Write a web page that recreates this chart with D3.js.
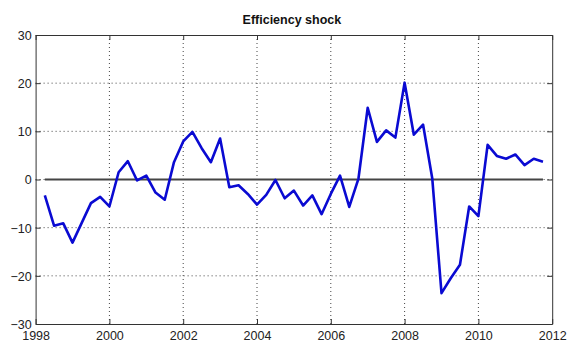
<!DOCTYPE html>
<html>
<head>
<meta charset="utf-8">
<script src="https://cdn.jsdelivr.net/npm/d3@7"></script>
<style>
  html, body { margin: 0; padding: 0; background: #fff; }
  svg text { font-family: "Liberation Sans", Arial, sans-serif; }
</style>
</head>
<body>
<svg id="chart" width="569" height="346"></svg>
<script>
// Quarterly dates (decimal years) and the efficiency shock series
const dates = [
  1998.25, 1998.5, 1998.75, 1999.0, 1999.25, 1999.5, 1999.75,
  2000.0, 2000.25, 2000.5, 2000.75, 2001.0, 2001.25, 2001.5, 2001.75,
  2002.0, 2002.25, 2002.5, 2002.75, 2003.0, 2003.25, 2003.5, 2003.75,
  2004.0, 2004.25, 2004.5, 2004.75, 2005.0, 2005.25, 2005.5, 2005.75,
  2006.0, 2006.25, 2006.5, 2006.75, 2007.0, 2007.25, 2007.5, 2007.75,
  2008.0, 2008.25, 2008.5, 2008.75, 2009.0, 2009.25, 2009.5, 2009.75,
  2010.0, 2010.25, 2010.5, 2010.75, 2011.0, 2011.25, 2011.5, 2011.75
];
const shock = [
  -3.3, -9.6, -9.1, -13.1, -9.0, -4.9, -3.6,
  -5.6, 1.5, 3.8, -0.2, 0.8, -2.7, -4.2, 3.6,
  7.9, 9.9, 6.5, 3.6, 8.5, -1.6, -1.2, -3.0,
  -5.2, -3.2, -0.1, -3.9, -2.3, -5.4, -3.3, -7.2,
  -3.0, 0.8, -5.7, 0.2, 14.9, 7.8, 10.2, 8.7,
  20.1, 9.3, 11.4, 0.2, -23.6, -20.5, -17.7, -5.6,
  -7.6, 7.2, 4.9, 4.3, 5.2, 3.0, 4.3, 3.7
];
const xTicks = [1998, 2000, 2002, 2004, 2006, 2008, 2010, 2012];
const yTicks = [-30, -20, -10, 0, 10, 20, 30];
const title = "Efficiency shock";

const svg = d3.select("#chart");
const plotLeft = 35.6, plotRight = 552.2, plotTop = 35, plotBottom = 324;

const x = d3.scaleLinear().domain([1998, 2012]).range([plotLeft, plotRight]);
const y = d3.scaleLinear().domain([-30, 30]).range([plotBottom, plotTop]);

// Dotted grid
const grid = svg.append("g");
grid.selectAll("line.vx")
  .data(xTicks.slice(1, -1))
  .join("line")
  .attr("x1", d => x(d)).attr("x2", d => x(d))
  .attr("y1", plotTop).attr("y2", plotBottom)
  .attr("stroke", "#444").attr("stroke-width", 1)
  .attr("stroke-dasharray", "1,3");
grid.selectAll("line.hy")
  .data(yTicks.slice(1, -1))
  .join("line")
  .attr("x1", plotLeft).attr("x2", plotRight)
  .attr("y1", d => y(d)).attr("y2", d => y(d))
  .attr("stroke", "#444").attr("stroke-width", 1)
  .attr("stroke-dasharray", "1,3");

// Axes with inward ticks on all four sides
const tickLen = 5;
const bottomAxis = d3.axisBottom(x).tickValues(xTicks).tickFormat(d3.format("d"))
  .tickSizeInner(-tickLen).tickSizeOuter(0).tickPadding(9);
const leftAxis = d3.axisLeft(y).tickValues(yTicks).tickFormat(d3.format("d"))
  .tickSizeInner(-tickLen).tickSizeOuter(0).tickPadding(9);
const topAxis = d3.axisTop(x).tickValues(xTicks).tickFormat("")
  .tickSizeInner(-tickLen).tickSizeOuter(0);
const rightAxis = d3.axisRight(y).tickValues(yTicks).tickFormat("")
  .tickSizeInner(-tickLen).tickSizeOuter(0);

function styleAxis(g) {
  g.select(".domain").attr("stroke", "#333");
  g.selectAll(".tick line").attr("stroke", "#333");
  g.selectAll(".tick text").attr("fill", "#222").attr("font-size", 12.5);
}

svg.append("g").attr("transform", `translate(0,${plotBottom})`).call(bottomAxis).call(styleAxis)
  .selectAll(".tick text").attr("dy", "0.55em");
svg.append("g").attr("transform", `translate(${plotLeft},0)`).call(leftAxis).call(styleAxis)
  .selectAll(".tick text").attr("x", -4).attr("dy", "0.35em");
svg.append("g").attr("transform", `translate(0,${plotTop})`).call(topAxis).call(styleAxis);
svg.append("g").attr("transform", `translate(${plotRight},0)`).call(rightAxis).call(styleAxis);

// Zero reference line across the sample
svg.append("line")
  .attr("x1", x(dates[0])).attr("x2", x(dates[dates.length - 1]))
  .attr("y1", y(0)).attr("y2", y(0))
  .attr("stroke", "#444").attr("stroke-width", 2);

// Shock series
const line = d3.line().x((d, i) => x(dates[i])).y(d => y(d));
svg.append("path")
  .datum(shock)
  .attr("d", line)
  .attr("fill", "none")
  .attr("stroke", "#0a0ad2")
  .attr("stroke-width", 2.6)
  .attr("stroke-linejoin", "round");

// Title
svg.append("text")
  .attr("x", (plotLeft + plotRight) / 2 - 2)
  .attr("y", 24)
  .attr("text-anchor", "middle")
  .attr("font-size", 12.5)
  .attr("font-weight", "bold")
  .attr("fill", "#111")
  .text(title);
</script>
</body>
</html>
